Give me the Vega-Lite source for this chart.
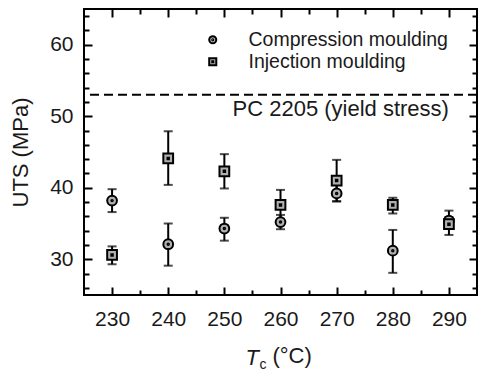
{
  "$schema": "https://vega.github.io/schema/vega-lite/v6.json",
  "width": 393,
  "height": 286,
  "autosize": "none",
  "padding": {"left": 84, "top": 9, "right": 8, "bottom": 77},
  "background": "white",
  "config": {
    "view": {"stroke": "black", "strokeWidth": 2},
    "font": "Liberation Sans",
    "axis": {
      "grid": false,
      "domain": false,
      "tickColor": "black",
      "tickWidth": 2,
      "labelFont": "Liberation Sans",
      "labelFontSize": 21,
      "labelColor": "#1a1a1a",
      "titleFont": "Liberation Sans",
      "titleFontSize": 22,
      "titleFontWeight": "normal",
      "titleColor": "#1a1a1a"
    }
  },
  "data": {
    "values": [
      {"T": 230, "method": "Compression moulding", "uts": 38.2, "lo": 36.6, "hi": 39.8},
      {"T": 240, "method": "Compression moulding", "uts": 32.1, "lo": 29.1, "hi": 35.0},
      {"T": 250, "method": "Compression moulding", "uts": 34.3, "lo": 32.6, "hi": 35.8},
      {"T": 260, "method": "Compression moulding", "uts": 35.2, "lo": 34.2, "hi": 36.2},
      {"T": 270, "method": "Compression moulding", "uts": 39.2, "lo": 38.1, "hi": 40.4},
      {"T": 280, "method": "Compression moulding", "uts": 31.2, "lo": 28.1, "hi": 34.1},
      {"T": 290, "method": "Compression moulding", "uts": 35.4, "lo": 34.3, "hi": 35.9},
      {"T": 230, "method": "Injection moulding", "uts": 30.6, "lo": 29.3, "hi": 31.8},
      {"T": 240, "method": "Injection moulding", "uts": 44.1, "lo": 40.4, "hi": 47.9},
      {"T": 250, "method": "Injection moulding", "uts": 42.3, "lo": 39.9, "hi": 44.7},
      {"T": 260, "method": "Injection moulding", "uts": 37.6, "lo": 35.5, "hi": 39.7},
      {"T": 270, "method": "Injection moulding", "uts": 41.0, "lo": 38.1, "hi": 43.9},
      {"T": 280, "method": "Injection moulding", "uts": 37.6, "lo": 36.4, "hi": 38.6},
      {"T": 290, "method": "Injection moulding", "uts": 34.9, "lo": 33.4, "hi": 36.8}
    ]
  },
  "layer": [
    {
      "data": {"values": [{"ref": 53}]},
      "mark": {"type": "rule", "stroke": "black", "strokeWidth": 2, "strokeDash": [9, 5]},
      "encoding": {
        "y": {"field": "ref", "type": "quantitative", "axis": null}
      }
    },
    {
      "mark": {"type": "rule", "stroke": "black", "strokeWidth": 2},
      "encoding": {
        "x": {
          "field": "T", "type": "quantitative",
          "scale": {"domain": [225, 295], "nice": false, "zero": false},
          "axis": {
            "orient": "bottom",
            "values": [230, 240, 250, 260, 270, 280, 290],
            "tickSize": -8,
            "labelPadding": 21,
            "title": "T",
            "titleFontStyle": "italic",
            "titleX": 161,
            "titleY": 69,
            "titleAlign": "left",
            "titleBaseline": "alphabetic",
            "titleAnchor": "start"
          }
        },
        "y": {
          "field": "lo", "type": "quantitative",
          "scale": {"domain": [25, 65], "nice": false, "zero": false},
          "axis": {
            "orient": "left",
            "values": [30, 40, 50, 60],
            "tickSize": -8,
            "labelPadding": 19,
            "title": "UTS (MPa)",
            "titleAngle": 270,
            "titleX": -57,
            "titleY": 143,
            "titleAlign": "center",
            "titleBaseline": "alphabetic"
          }
        },
        "y2": {"field": "hi"}
      }
    },
    {
      "mark": {"type": "tick", "orient": "horizontal", "size": 9, "thickness": 2, "color": "black"},
      "encoding": {
        "x": {
          "field": "T", "type": "quantitative",
          "axis": {
            "orient": "bottom",
            "values": [235, 245, 255, 265, 275, 285],
            "tickSize": -5,
            "labels": false,
            "title": "c",
            "titleFontSize": 14,
            "titleX": 175,
            "titleY": 73,
            "titleAlign": "left",
            "titleBaseline": "alphabetic",
            "titleAnchor": "start"
          }
        },
        "y": {
          "field": "lo", "type": "quantitative",
          "axis": {
            "orient": "left",
            "values": [26, 28, 32, 34, 36, 38, 42, 44, 46, 48, 52, 54, 56, 58, 62, 64],
            "tickSize": -5,
            "labels": false,
            "title": null
          }
        }
      }
    },
    {
      "mark": {"type": "tick", "orient": "horizontal", "size": 9, "thickness": 2, "color": "black"},
      "encoding": {
        "x": {
          "field": "T", "type": "quantitative",
          "axis": {
            "orient": "top",
            "values": [230, 240, 250, 260, 270, 280, 290],
            "tickSize": -8,
            "labels": false,
            "title": "(°C)",
            "titleX": 188,
            "titleY": 353,
            "titleAlign": "left",
            "titleBaseline": "alphabetic",
            "titleAnchor": "start"
          }
        },
        "y": {
          "field": "hi", "type": "quantitative",
          "axis": {
            "orient": "right",
            "values": [30, 40, 50, 60],
            "tickSize": -8,
            "labels": false,
            "title": null
          }
        }
      }
    },
    {
      "mark": {"type": "point", "filled": false, "fillOpacity": 1, "strokeWidth": 2, "opacity": 1, "size": 95},
      "encoding": {
        "x": {
          "field": "T", "type": "quantitative",
          "axis": {
            "orient": "top",
            "values": [235, 245, 255, 265, 275, 285],
            "tickSize": -5,
            "labels": false,
            "title": null
          }
        },
        "y": {
          "field": "uts", "type": "quantitative",
          "axis": {
            "orient": "right",
            "values": [26, 28, 32, 34, 36, 38, 42, 44, 46, 48, 52, 54, 56, 58, 62, 64],
            "tickSize": -5,
            "labels": false,
            "title": null
          }
        },
        "fill": {
          "field": "method", "type": "nominal",
          "scale": {"domain": ["Compression moulding", "Injection moulding"], "range": ["#b0b0b0", "#b0b0b0"]}
        },
        "stroke": {
          "field": "method", "type": "nominal",
          "scale": {"domain": ["Compression moulding", "Injection moulding"], "range": ["black", "black"]}
        },
        "shape": {
          "field": "method", "type": "nominal",
          "scale": {
            "domain": ["Compression moulding", "Injection moulding"],
            "range": [
              "M-1,0A1,1,0,1,1,1,0A1,1,0,1,1,-1,0ZM-0.15,0A0.15,0.15,0,1,1,0.15,0A0.15,0.15,0,1,1,-0.15,0Z",
              "M-1,-1H1V1H-1ZM-0.15,-0.15H0.15V0.15H-0.15Z"
            ]
          },
          "legend": {
            "orient": "none",
            "legendX": 119,
            "legendY": 21,
            "title": null,
            "padding": 0,
            "labelFont": "Liberation Sans",
            "labelFontSize": 19.5,
            "labelColor": "#1a1a1a",
            "labelLimit": 0,
            "labelOffset": 26,
            "symbolSize": 50,
            "symbolStrokeWidth": 2,
            "symbolOpacity": 1,
            "rowPadding": 1
          }
        }
      }
    },
    {
      "data": {"values": [{"T": 290, "v": 50, "label": "PC 2205 (yield stress)"}]},
      "mark": {"type": "text", "align": "right", "baseline": "alphabetic", "font": "Liberation Sans", "fontSize": 22, "color": "#1a1a1a"},
      "encoding": {
        "x": {"field": "T", "type": "quantitative", "axis": null},
        "y": {"field": "v", "type": "quantitative", "axis": null},
        "text": {"field": "label"}
      }
    }
  ],
  "resolve": {"axis": {"x": "independent", "y": "independent"}}
}
